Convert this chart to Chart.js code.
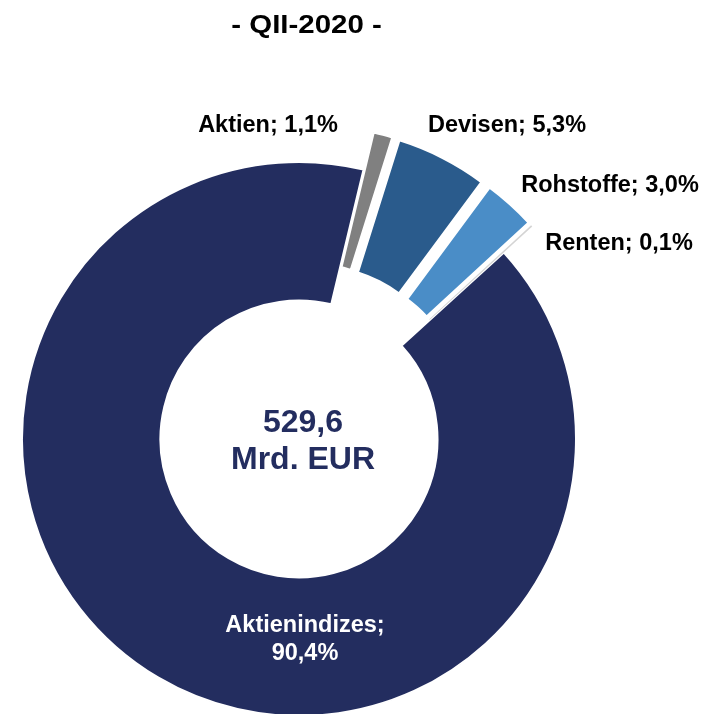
<!DOCTYPE html>
<html>
<head>
<meta charset="utf-8">
<script src="https://cdn.jsdelivr.net/npm/chart.js@4.4.1/dist/chart.umd.min.js"></script>
<style>
  html, body { margin: 0; padding: 0; background: #fff; overflow: hidden; }
  #wrap { width: 711px; height: 714px; position: relative; }
</style>
</head>
<body>
<div id="wrap"><canvas id="donut"></canvas></div>
<script>
// Daten: Verteilung nach Basiswert, QII-2020
const titleText = '- QII-2020 -';
const labels = ['Aktienindizes', 'Aktien', 'Devisen', 'Rohstoffe', 'Renten'];
const shares = [90.4, 1.1, 5.3, 3.0, 0.1];
const totalLines = ['529,6', 'Mrd. EUR'];

// Farben
const sliceColors = ['#232D5F', '#808080', '#2A5B8C', '#4A8DC7', '#D4D4D4'];
const navy = '#232D5F';

// Beschriftung: Position relativ zur Kreismitte (x-Mitte, Grundlinie)
const labelPos = [
  [6, 193], [-31, -307], [208, -307], [311, -247], [320, -189]
];

const fmt = v => v.toFixed(1).replace('.', ',') + '%';

// Chart.js vergrößert abgesetzte Segmente radial und macht sie schmaler -> ausgleichen
const keepShape = {
  id: 'keepShape',
  afterDatasetsUpdate(chart) {
    chart.getDatasetMeta(0).data.forEach(arc => {
      const off = (arc.options.offset || 0) / 4;
      if (!off) return;
      const fix = 1 - Math.sin(Math.min(Math.PI, arc.circumference));
      const r = off * fix;
      const R = arc.outerRadius;
      arc.outerRadius -= r;
      arc.innerRadius -= r;
      const d = r / (2 * Math.PI * R);
      arc.startAngle -= d;
      arc.endAngle += d;
    });
  }
};

const textLayer = {
  id: 'textLayer',
  afterDraw(chart) {
    const ctx = chart.ctx;
    const arcs = chart.getDatasetMeta(0).data;
    const cx = arcs[0].x, cy = arcs[0].y;
    ctx.save();
    ctx.textAlign = 'center';
    ctx.textBaseline = 'alphabetic';

    // Titel (etwas breiter laufend als Arial)
    ctx.save();
    ctx.fillStyle = '#000';
    ctx.font = 'bold 25.6px "Liberation Sans", Arial, sans-serif';
    ctx.translate(306.5, 33);
    ctx.scale(1.15, 1);
    ctx.fillText(titleText, 0, 0);
    ctx.restore();

    // Summe in der Mitte
    ctx.fillStyle = navy;
    ctx.font = 'bold 32px "Liberation Sans", Arial, sans-serif';
    ctx.fillText(totalLines[0], cx + 4, cy - 7);
    ctx.fillText(totalLines[1], cx + 4, cy + 30);

    // Datenbeschriftungen
    ctx.font = 'bold 23.5px "Liberation Sans", Arial, sans-serif';
    labels.forEach((name, i) => {
      const [dx, dy] = labelPos[i];
      if (i === 0) {
        ctx.fillStyle = '#fff';
        ctx.fillText(name + ';', cx + dx, cy + dy);
        ctx.fillText(fmt(shares[i]), cx + dx, cy + dy + 28);
      } else {
        ctx.fillStyle = '#000';
        ctx.fillText(name + '; ' + fmt(shares[i]), cx + dx, cy + dy);
      }
    });
    ctx.restore();
  }
};

new Chart(document.getElementById('donut'), {
  type: 'doughnut',
  data: {
    labels: labels,
    datasets: [{
      data: shares,
      backgroundColor: sliceColors,
      borderColor: '#fff',
      borderWidth: ctx => ctx.dataIndex === 4 ? 0 : 2,
      offset: ctx => ctx.dataIndex === 0 ? 0 : 154,
      clip: false
    }]
  },
  options: {
    responsive: true,
    maintainAspectRatio: false,
    animation: false,
    events: [],
    rotation: 47.7,
    radius: 277,
    cutout: '50%',
    layout: { padding: { left: 0, right: 113, top: 164, bottom: 0 } },
    plugins: {
      legend: { display: false },
      title: { display: false },
      tooltip: { enabled: false }
    }
  },
  plugins: [keepShape, textLayer]
});
</script>
</body>
</html>
